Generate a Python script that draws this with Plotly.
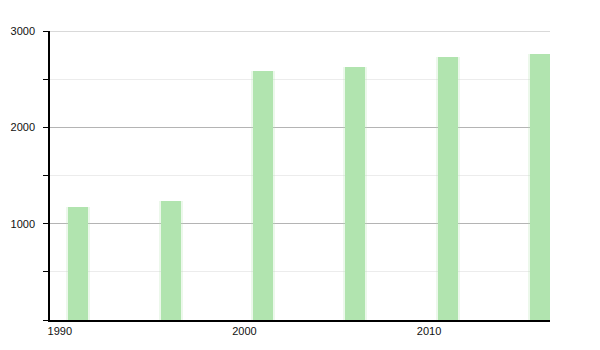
import plotly.graph_objects as go

years = [1991, 1996, 2001, 2006, 2011, 2016]
values = [1175, 1235, 2580, 2625, 2730, 2760]
x_ticks = [1990, 2000, 2010]
y_ticks = [1000, 2000, 3000]
y_max = 3000

fig = go.Figure()
# soft halo to mimic blurred bar edges
fig.add_trace(go.Bar(x=years, y=values, width=1.3, marker=dict(color="rgba(178,229,176,0.25)", line=dict(width=0)),
                     hoverinfo="skip", showlegend=False))
fig.add_trace(go.Bar(x=years, y=values, width=1.08, marker=dict(color="#b1e4af", line=dict(width=0)),
                     showlegend=False))

# top gridline (plotly skips grid at the range edge)
fig.add_shape(type="line", xref="paper", x0=0, x1=1, yref="y", y0=y_max, y1=y_max,
              line=dict(color="#b4b4b4", width=1), layer="below")

fig.update_layout(
    width=600, height=350,
    margin=dict(l=50, r=50, t=31, b=30),
    paper_bgcolor="white", plot_bgcolor="white",
    barmode="overlay", bargap=0,
    font=dict(family="Liberation Sans, Arial, sans-serif", size=11, color="#111"),
    xaxis=dict(range=[1989.47, 2016.55], tickvals=x_ticks, ticktext=[str(t) for t in x_ticks],
               showgrid=False, showline=True, linecolor="black", linewidth=1.5, ticks="",
               zeroline=False, fixedrange=True),
    yaxis=dict(range=[0, y_max], tickvals=y_ticks, ticktext=[str(t) for t in y_ticks],
               showgrid=True, gridcolor="#b4b4b4", gridwidth=1,
               showline=True, linecolor="black", linewidth=1.5,
               ticks="outside", ticklen=5, tickcolor="black", ticklabelstandoff=6,
               minor=dict(dtick=500, tick0=0, showgrid=True, gridcolor="#ececec", ticks="outside",
                          ticklen=5, tickcolor="black"),
               zeroline=False, fixedrange=True),
)

fig.write_html("out.html")
